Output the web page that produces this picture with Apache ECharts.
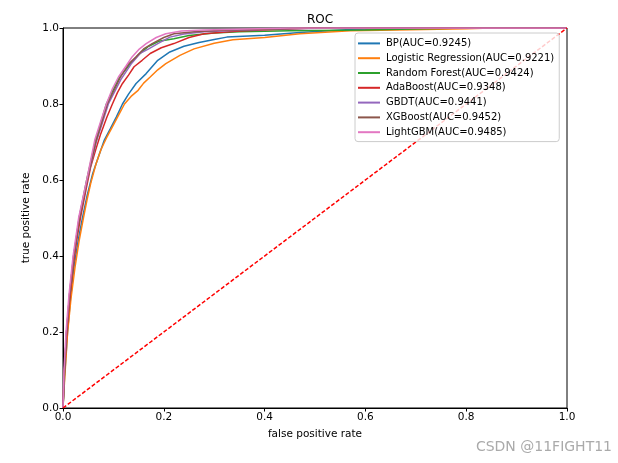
<!DOCTYPE html>
<html>
<head>
<meta charset="utf-8">
<script src="https://cdn.jsdelivr.net/npm/echarts@6/dist/echarts.min.js"></script>
<style>html,body{margin:0;padding:0;background:#fff}#c{width:618px;height:463px}</style>
</head>
<body>
<div id="c"></div>
<script>
const tickLabels = ['0.0','0.2','0.4','0.6','0.8','1.0'];
const seriesNames = ['BP(AUC=0.9245)','Logistic Regression(AUC=0.9221)','Random Forest(AUC=0.9424)','AdaBoost(AUC=0.9348)','GBDT(AUC=0.9441)','XGBoost(AUC=0.9452)','LightGBM(AUC=0.9485)'];
const seriesColors = ['#1f77b4','#ff7f0e','#2ca02c','#d62728','#9467bd','#8c564b','#e377c2'];

const bpPoints = [[0,0],[0.003,0.08],[0.009,0.2],[0.015,0.29],[0.022,0.372],[0.03,0.44],[0.039,0.503],[0.048,0.56],[0.059,0.617],[0.07,0.66],[0.082,0.705],[0.094,0.735],[0.106,0.766],[0.118,0.8],[0.13,0.826],[0.145,0.854],[0.165,0.88],[0.188,0.915],[0.212,0.937],[0.24,0.952],[0.27,0.962],[0.3,0.97],[0.325,0.976],[0.4,0.981],[0.47,0.988],[0.52,0.992],[0.57,0.996],[0.66,0.998],[0.75,1],[1,1]];
const lrPoints = [[0,0],[0.003,0.07],[0.009,0.197],[0.016,0.29],[0.024,0.372],[0.032,0.44],[0.041,0.503],[0.048,0.55],[0.055,0.591],[0.065,0.64],[0.075,0.679],[0.086,0.71],[0.098,0.74],[0.11,0.77],[0.122,0.8],[0.135,0.82],[0.149,0.836],[0.16,0.855],[0.173,0.871],[0.188,0.89],[0.204,0.906],[0.232,0.928],[0.26,0.945],[0.3,0.96],[0.337,0.969],[0.4,0.975],[0.47,0.985],[0.57,0.993],[0.66,0.995],[0.8,0.998],[0.85,1],[1,1]];
const rfPoints = [[0,0],[0.003,0.1],[0.007,0.2],[0.014,0.3],[0.022,0.4],[0.032,0.5],[0.047,0.6],[0.064,0.7],[0.086,0.8],[0.112,0.87],[0.13,0.9],[0.15,0.93],[0.17,0.952],[0.19,0.965],[0.22,0.972],[0.25,0.98],[0.3,0.987],[0.35,0.99],[0.45,0.993],[0.6,0.995],[0.67,0.997],[0.8,1],[1,1]];
const adaPoints = [[0,0],[0.002,0.08],[0.008,0.2],[0.013,0.28],[0.02,0.372],[0.027,0.44],[0.035,0.503],[0.045,0.57],[0.055,0.635],[0.065,0.68],[0.075,0.722],[0.087,0.765],[0.098,0.8],[0.108,0.83],[0.118,0.854],[0.13,0.876],[0.141,0.898],[0.157,0.915],[0.173,0.933],[0.195,0.948],[0.22,0.959],[0.25,0.975],[0.28,0.985],[0.35,0.992],[0.42,0.996],[0.5,1],[1,1]];
const gbdtPoints = [[0,0],[0.003,0.1],[0.007,0.2],[0.013,0.3],[0.021,0.4],[0.032,0.5],[0.048,0.6],[0.066,0.7],[0.09,0.8],[0.115,0.865],[0.135,0.905],[0.153,0.933],[0.17,0.945],[0.188,0.959],[0.212,0.976],[0.24,0.984],[0.28,0.99],[0.35,0.994],[0.45,0.998],[0.55,1],[1,1]];
const xgbPoints = [[0,0],[0.003,0.1],[0.007,0.2],[0.013,0.3],[0.021,0.4],[0.033,0.5],[0.048,0.6],[0.065,0.7],[0.088,0.8],[0.114,0.871],[0.13,0.905],[0.145,0.924],[0.16,0.945],[0.177,0.959],[0.2,0.975],[0.22,0.985],[0.26,0.99],[0.32,0.994],[0.4,0.997],[0.5,1],[1,1]];
const lgbmPoints = [[0,0],[0.002,0.1],[0.006,0.2],[0.012,0.3],[0.02,0.4],[0.031,0.5],[0.047,0.6],[0.063,0.705],[0.075,0.755],[0.086,0.8],[0.098,0.84],[0.11,0.871],[0.125,0.9],[0.137,0.924],[0.15,0.943],[0.165,0.959],[0.185,0.975],[0.204,0.985],[0.235,0.992],[0.28,0.995],[0.345,0.997],[0.45,1],[1,1]];
const diagonalPoints = [[0,0],[1,1]];

const allPoints = [bpPoints, lrPoints, rfPoints, adaPoints, gbdtPoints, xgbPoints, lgbmPoints];
const font = 'DejaVu Sans';

const chart = echarts.init(document.getElementById('c'), null, {renderer: 'canvas'});
const series = allPoints.map((pts, i) => ({
  name: seriesNames[i], type: 'line', data: pts, symbol: 'none', smooth: false,
  lineStyle: {color: seriesColors[i], width: 1.5}, itemStyle: {color: seriesColors[i]}, z: 2 + i * 0.01
}));
series.push({
  name: 'diag', type: 'line', data: diagonalPoints, symbol: 'none',
  lineStyle: {color: '#ff0000', width: 1.5, type: [4, 2]}, z: 3
});

chart.setOption({
  animation: false,
  backgroundColor: '#fff',
  title: {text: 'ROC', left: 315, top: 9, textAlign: 'center',
    textStyle: {fontFamily: font, fontSize: 12, fontWeight: 'normal', color: '#000'}},
  grid: {left: 63, right: 51, top: 28, bottom: 55, show: true, borderColor: '#000', borderWidth: 1, backgroundColor: 'transparent'},
  legend: {
    data: seriesNames, orient: 'vertical', left: 355, top: 33,
    padding: [4, 5, 3, 3], itemGap: 2, itemWidth: 22, itemHeight: 2, icon: 'rect',
    backgroundColor: 'rgba(255,255,255,0.8)', borderColor: '#cccccc', borderWidth: 1, borderRadius: 3,
    textStyle: {fontFamily: font, fontSize: 10, color: '#000', lineHeight: 12.8, padding: [0,0,0,1]},
    selectedMode: false
  },
  xAxis: {
    type: 'value', min: 0, max: 1, interval: 0.2,
    name: 'false positive rate', nameLocation: 'middle', nameGap: 21,
    nameTextStyle: {fontFamily: font, fontSize: 10.5, color: '#000'},
    axisLine: {show: true, lineStyle: {color: '#000', width: 1}},
    axisTick: {show: true, inside: false, length: 3.5, lineStyle: {color: '#000'}},
    axisLabel: {fontFamily: font, fontSize: 10.5, color: '#000', margin: 4,
      formatter: v => tickLabels[Math.round(v / 0.2)]},
    splitLine: {show: false}
  },
  yAxis: {
    type: 'value', min: 0, max: 1, interval: 0.2,
    name: 'true positive rate', nameLocation: 'middle', nameGap: 28, nameRotate: 90,
    nameTextStyle: {fontFamily: font, fontSize: 10.5, color: '#000'},
    axisLine: {show: true, lineStyle: {color: '#000', width: 1}},
    axisTick: {show: true, inside: false, length: 3.5, lineStyle: {color: '#000'}},
    axisLabel: {fontFamily: font, fontSize: 10.5, color: '#000', margin: 4,
      formatter: v => tickLabels[Math.round(v / 0.2)]},
    splitLine: {show: false}
  },
  graphic: [{
    type: 'text', right: 6, top: 440,
    style: {text: 'CSDN @11FIGHT11', fontFamily: font, fontSize: 14, fill: '#aaaaaa'}
  }],
  series: series
});
</script>
</body>
</html>
